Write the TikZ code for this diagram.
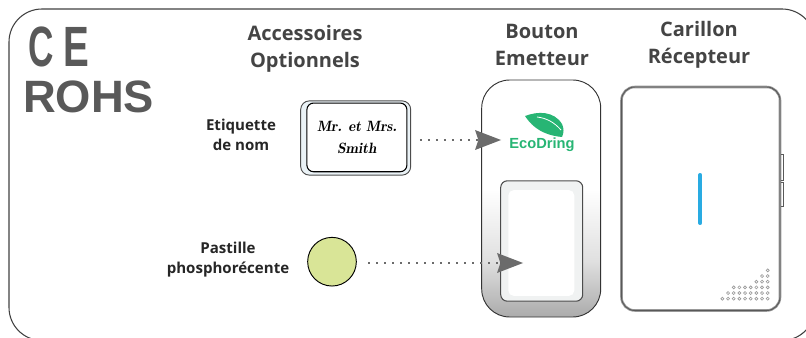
\documentclass[tikz,border=0pt]{standalone}
\usepackage{fontspec}
\setmainfont{Open Sans}
\newfontfamily\rohsfont{Liberation Sans}
\usetikzlibrary{arrows.meta}
\definecolor{inkgrey}{HTML}{595959}
\definecolor{headgrey}{HTML}{444444}
\definecolor{arrowgrey}{HTML}{6B6B6B}
\definecolor{leafgreen}{HTML}{27B574}
\definecolor{padgreen}{HTML}{D9E597}
\definecolor{ledblue}{HTML}{29ABE2}
\definecolor{dotgrey}{HTML}{9A9A9A}
\definecolor{gapblue}{HTML}{EAF2F6}
\definecolor{keygrey}{HTML}{F0F2F2}
\pgfdeclareverticalshading{buttonshade}{100bp}{color(0bp)=(black!33); color(25bp)=(black!33); color(37bp)=(black!12); color(52bp)=(white); color(100bp)=(white)}
\tikzset{
    px/.style={x=0.75pt, y=-0.75pt},
    logomark/.style={text=inkgrey, inner sep=0},
    heading/.style={font=\bfseries\fontsize{15}{20}\selectfont, align=center, text=headgrey},
    sidelabel/.style={font=\bfseries\fontsize{11.3}{15}\selectfont, align=center, text=black!85},
    dotarrow/.style={draw=arrowgrey, line width=1.6pt, dash pattern=on 1.6pt off 4.4pt,
        -{Stealth[length=19.5pt, width=15pt, inset=2.5pt, line width=0pt, fill=arrowgrey]}},
}
\begin{document}
\begin{tikzpicture}[px]
    \useasboundingbox (0, 0) rectangle (806, 338);
    \path[clip] (0, 0) rectangle (806, 338);
    % cadre
    \draw [black!75, line width=0.8pt, rounded corners=24.75pt] (9, 9) rectangle (815, 340.5);
    % marquages
    \node (MC) [logomark, font=\rohsfont\bfseries\fontsize{42.6}{43}\selectfont] at (41.5, 47) {\scalebox{0.62}[1]{C}};
    \node (ME) [logomark, font=\rohsfont\bfseries\fontsize{42.6}{43}\selectfont] at (76, 47) {\scalebox{0.68}[1]{E}};
    \node (ROHS) [logomark, font=\rohsfont\bfseries\fontsize{34}{34}\selectfont] at (88.5, 97) {ROHS};
    % titres
    \node (AO) [heading] at (305, 49) {Accessoires\\Optionnels};
    \node (BE) [heading] at (542, 45) {Bouton\\Emetteur};
    \node (CR) [heading] at (699, 45) {Carillon\\Récepteur};
    \node (EN) [sidelabel] at (241, 135) {Etiquette\\de nom};
    \node (PP) [sidelabel] at (228, 260) {Pastille\\phosphorécente};
    % etiquette
    \node (ET) [draw=black!70, fill=gapblue, line width=0.7pt, rounded corners=6.5pt, minimum width=82.5pt, minimum height=55.7pt, inner sep=0] at (355.7, 138) {};
    \node (NM) [draw=black, fill=white, line width=0.8pt, rounded corners=5pt, minimum width=75pt, minimum height=51.5pt, inner sep=0, align=center, font=\fontfamily{lmr}\bfseries\itshape\fontsize{11.2}{16}\selectfont] at (356.9, 137.4) {Mr. et Mrs.\\Smith};
    % pastille
    \node (PA) [circle, draw=black, fill=padgreen, line width=0.7pt, minimum size=36.5pt, inner sep=0] at (332, 261.7) {};
    % bouton
    \shadedraw [shading=buttonshade, draw=black!80, line width=0.7pt, rounded corners=21pt] (481.7, 80) rectangle (600.7, 317);
    \node (BT) [draw=black!70, fill=keygrey, line width=0.8pt, rounded corners=5pt, minimum width=61.5pt, minimum height=90.3pt, inner sep=0] at (541.7, 241) {};
    \node (BI) [fill=white, rounded corners=4pt, minimum width=49.5pt, minimum height=79.3pt, inner sep=0] at (541.3, 243) {};
    % logo
    \fill [leafgreen] (525, 116) .. controls (538, 111) and (554, 111) .. (562, 124) .. controls (564, 128) and (564, 133) .. (562, 137) .. controls (552, 136) and (536, 133) .. (525, 116) -- cycle;
    \draw [white, line width=0.6pt] (537, 117) .. controls (546, 118) and (554, 122) .. (561, 130);
    \node (EC) [text=leafgreen, font=\rohsfont\bfseries\fontsize{11}{12}\selectfont, inner sep=0] at (542, 144.5) {EcoDring};
    % fleches
    \coordinate (A2) at (501, 140);
    \coordinate (B2) at (523, 263);
    \draw [dotarrow, shorten <=6.5pt] (ET.east |- A2) -- (A2);
    \draw [dotarrow, shorten <=8.5pt] (PA.east |- B2) -- (B2);
    % carillon
    \draw [black!40, line width=1.9pt, rounded corners=10pt] (621.5, 87) rectangle (780, 310.5);
    \draw [black!65, line width=0.7pt, rounded corners=10pt] (621.5, 87) rectangle (780, 310.5);
    \draw [black!65, line width=0.5pt] (781, 154) -- (783, 154) -- (783, 180) -- (781, 180);
    \draw [black!65, line width=0.5pt] (781, 182) -- (783, 182) -- (783, 206.5) -- (781, 206.5);
    \draw [ledblue, line width=3pt, line cap=round] (700.3, 175) -- (700.3, 223);
    % grille
    \foreach \row/\num in {0/9, 1/8, 2/7, 3/3, 4/2, 5/1} {
        \foreach \col in {1,...,\num} {
            \draw [dotgrey, line width=0.5pt] ({767.7-5.67*(\col-1)}, {298.7-5.67*\row}) circle [radius=1.5];
        }
    }
\end{tikzpicture}
\end{document}
